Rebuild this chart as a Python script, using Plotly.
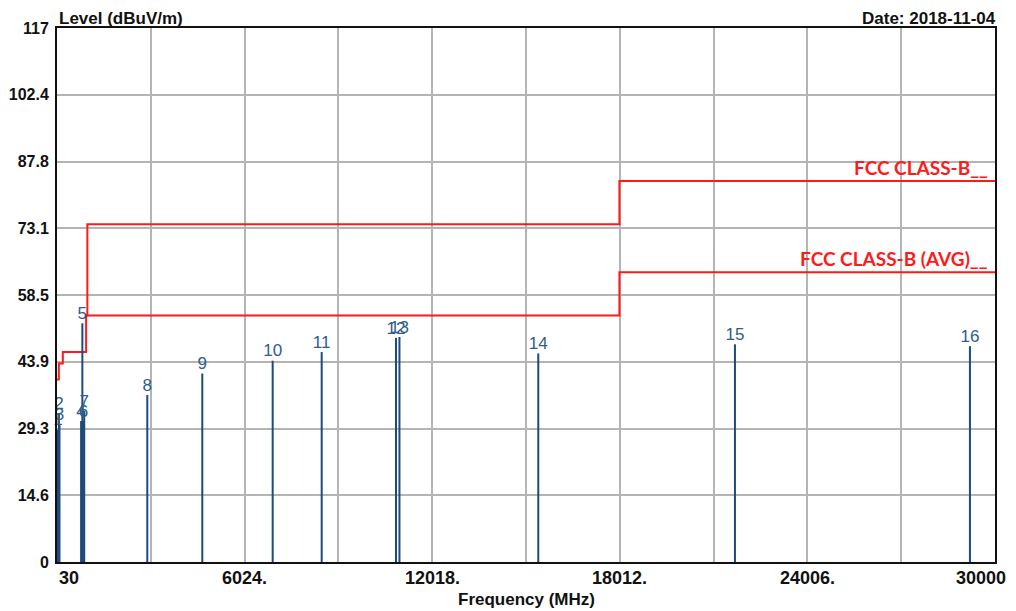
import plotly.graph_objects as go

# ---- data ----
marker_ids = [str(i) for i in range(1, 17)]
marker_freq = [60, 90, 110, 800, 840, 880, 900, 2915, 4672, 6921, 8487,
               10861, 10972, 15407, 21691, 29199]
marker_level = [29.0, 32.6, 30.1, 30.9, 52.3, 30.9, 33.1, 36.6, 41.3, 44.1,
                46.0, 49.1, 49.3, 45.7, 47.7, 47.3]

qp_limit_freq = [30, 88, 216, 960, 1000, 18000, 30000]
qp_limit_level = [40, 43.5, 46, 54, 74, 83.5, 83.5]
avg_limit_freq = [1000, 18000, 30000]
avg_limit_level = [54, 63.5, 63.5]

y_tickvals = [0, 14.625, 29.25, 43.875, 58.5, 73.125, 87.75, 102.375, 117]
y_ticktext = ["0", "14.6", "29.3", "43.9", "58.5", "73.1", "87.8", "102.4", "117"]
x_tickvals = [30, 6024, 12018, 18012, 24006, 30000]
x_ticktext = ["30", "6024.", "12018.", "18012.", "24006.", "30000"]

# ---- styles ----
SPIKE = "#1f4a7c"
LABEL = "#2e5d8e"
RED = "#ff1a1a"
GRID = "#b4b4b4"
FONT = "Liberation Sans, Arial, sans-serif"
DARK = "#111111"

spike_x, spike_y = [], []
for f, v in zip(marker_freq, marker_level):
    spike_x += [f, f, None]
    spike_y += [0, v, None]

fig = go.Figure()
fig.add_trace(go.Scatter(x=qp_limit_freq, y=qp_limit_level, mode="lines",
                         line=dict(color=RED, width=2, shape="hv"),
                         hoverinfo="skip", showlegend=False))
fig.add_trace(go.Scatter(x=avg_limit_freq, y=avg_limit_level, mode="lines",
                         line=dict(color=RED, width=2, shape="hv"),
                         hoverinfo="skip", showlegend=False))
fig.add_trace(go.Scatter(x=spike_x, y=spike_y, mode="lines",
                         line=dict(color=SPIKE, width=2),
                         showlegend=False, cliponaxis=False))
fig.add_trace(go.Scatter(x=marker_freq, y=marker_level, mode="text",
                         text=marker_ids, textposition="top center",
                         textfont=dict(family=FONT, size=17, color=LABEL),
                         showlegend=False, cliponaxis=False))

annotations = []
for i, (xv, xt) in enumerate(zip(x_tickvals, x_ticktext)):
    if i == 0:
        xa, xs = "left", 0
    elif i == len(x_tickvals) - 1:
        xa, xs = "right", 13
    else:
        xa, xs = "center", 0
    annotations.append(dict(x=xv, y=0, xref="x", yref="paper", text=xt,
                            showarrow=False, xanchor=xa, yanchor="top",
                            xshift=xs, yshift=-4,
                            font=dict(family=FONT, size=18, color=DARK, weight="bold")))

annotations += [
    dict(x=0, y=1, xref="paper", yref="paper", text="Level (dBuV/m)",
         showarrow=False, xanchor="left", yanchor="bottom", yshift=-2,
         font=dict(family=FONT, size=17, color=DARK, weight="bold")),
    dict(x=1, y=1, xref="paper", yref="paper", text="Date: 2018-11-04",
         showarrow=False, xanchor="right", yanchor="bottom", xshift=3, yshift=-2,
         font=dict(family=FONT, size=17, color=DARK, weight="bold")),
    dict(x=0.5, y=0, xref="paper", yref="paper", text="Frequency (MHz)",
         showarrow=False, xanchor="center", yanchor="top", yshift=-26,
         font=dict(family=FONT, size=17, color=DARK, weight="bold")),
    dict(x=1, y=qp_limit_level[-1], xref="paper", yref="y", text="FCC CLASS-B__",
         showarrow=False, xanchor="right", yanchor="bottom", xshift=-5, yshift=0,
         font=dict(family="Lato", size=19, color=RED, weight="bold")),
    dict(x=1, y=avg_limit_level[-1], xref="paper", yref="y", text="FCC CLASS-B (AVG)__",
         showarrow=False, xanchor="right", yanchor="bottom", xshift=-5, yshift=0,
         font=dict(family="Lato", size=19, color=RED, weight="bold")),
]

fig.update_layout(
    width=1008, height=603,
    margin=dict(l=49, r=21, t=20, b=49),
    paper_bgcolor="white", plot_bgcolor="white",
    showlegend=False,
    annotations=annotations,
    xaxis=dict(range=[30, 30000], tick0=30, dtick=2997, showticklabels=False,
               showgrid=True, gridcolor=GRID, gridwidth=2, zeroline=False,
               showline=True, linecolor=DARK, linewidth=2, mirror=True,
               ticks="", automargin=False),
    yaxis=dict(range=[0, 117], tickvals=y_tickvals, ticktext=y_ticktext,
               showgrid=True, gridcolor=GRID, gridwidth=2, zeroline=False,
               showline=True, linecolor=DARK, linewidth=2, mirror=True,
               ticks="", ticklabelstandoff=3, automargin=False,
               tickfont=dict(family=FONT, size=16, color=DARK, weight="bold")),
)

fig.write_html("out.html")
